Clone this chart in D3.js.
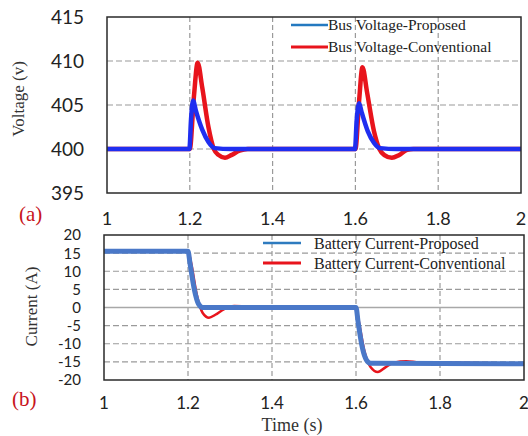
<!DOCTYPE html>
<html>
<head>
<meta charset="utf-8">
<script src="https://cdn.jsdelivr.net/npm/d3@7"></script>
<style>
  body { margin: 0; background: #fff; }
  svg { display: block; }
</style>
</head>
<body>
<script>
// x ticks shared by both panels
var timeTicks = [1, 1.2, 1.4, 1.6, 1.8, 2];
var voltTicks = [395, 400, 405, 410, 415];
var currTicks = [-20, -15, -10, -5, 0, 5, 10, 15, 20];

// (a) bus voltage
var voltProposed = [
  [1.0, 400], [1.199, 400], [1.203, 403.4], [1.208, 405.5], [1.215, 404.3],
  [1.23, 402.2], [1.245, 400.8], [1.26, 400.1], [1.3, 400], [1.599, 400],
  [1.603, 403.2], [1.609, 405.2], [1.615, 404.2], [1.63, 402.0], [1.645, 400.7],
  [1.66, 400.1], [1.7, 400], [2.0, 400]
];
var voltConventional = [
  [1.0, 400], [1.2, 400], [1.21, 406], [1.219, 409.8], [1.23, 407],
  [1.245, 402.5], [1.258, 400], [1.27, 399.3], [1.285, 399.0], [1.30, 399.3],
  [1.32, 399.8], [1.34, 400], [1.6, 400], [1.609, 405.5], [1.617, 409.3],
  [1.628, 406.5], [1.645, 402], [1.658, 400], [1.67, 399.3], [1.688, 399.0],
  [1.705, 399.3], [1.725, 399.9], [1.74, 400], [2.0, 400]
];

// (b) battery current
var currProposed = [
  [1.0, 15.5], [1.2, 15.5], [1.205, 12], [1.215, 5], [1.225, 1], [1.235, 0],
  [1.6, 0], [1.605, -4], [1.615, -11], [1.625, -14.5], [1.635, -15.4], [2.0, -15.5]
];
var currConventional = [
  [1.0, 15.5], [1.2, 15.5], [1.208, 12], [1.22, 4], [1.235, -1.5], [1.25, -2.8],
  [1.265, -2], [1.285, -0.5], [1.31, 0.4], [1.33, 0.3], [1.36, 0], [1.6, 0],
  [1.607, -4], [1.62, -12], [1.635, -16.5], [1.652, -17.8], [1.67, -16.5],
  [1.69, -15.2], [1.72, -14.8], [1.75, -15.1], [2.0, -15.4]
];

var svg = d3.select('body').append('svg')
    .attr('width', 528)
    .attr('height', 436);

svg.append('rect').attr('width', 528).attr('height', 436).attr('fill', '#fff');

var tickFont = 'Lato, "Open Sans", sans-serif';
var serif = '"Liberation Serif", "DejaVu Serif", serif';

function panel(o) {
  var x = d3.scaleLinear().domain([1, 2]).range([o.left, o.right]);
  var y = d3.scaleLinear().domain(o.ydom).range([o.bottom, o.top]);
  var g = svg.append('g');

  // vertical grid
  g.selectAll('line.vg')
    .data(timeTicks.slice(1, -1)).enter().append('line')
    .attr('class', 'vg')
    .attr('x1', function(d) { return x(d); }).attr('x2', function(d) { return x(d); })
    .attr('y1', o.top).attr('y2', o.bottom)
    .attr('stroke', '#9a9a9a').attr('stroke-width', 1.2)
    .attr('stroke-dasharray', '5,3');

  // horizontal grid
  g.selectAll('line.hg')
    .data(o.yticks.slice(1, -1)).enter().append('line')
    .attr('class', 'hg')
    .attr('x1', o.left).attr('x2', o.right)
    .attr('y1', function(d) { return y(d); }).attr('y2', function(d) { return y(d); })
    .attr('stroke', function(d) { return (o.solidZero && d === 0) ? '#a8a8a8' : '#9a9a9a'; })
    .attr('stroke-width', function(d) { return (o.solidZero && d === 0) ? 1.6 : 1.2; })
    .attr('stroke-dasharray', function(d) { return (o.solidZero && d === 0) ? null : '6,3'; });

  var line = d3.line()
    .x(function(d) { return x(d[0]); })
    .y(function(d) { return y(d[1]); })
    .curve(d3.curveMonotoneX);

  g.append('path').datum(o.red)
    .attr('d', line).attr('fill', 'none')
    .attr('stroke', '#e8141c').attr('stroke-width', o.redW)
    .attr('stroke-linejoin', 'round');
  g.append('path').datum(o.blue)
    .attr('d', line).attr('fill', 'none')
    .attr('stroke', o.blueColor).attr('stroke-width', o.blueW)
    .attr('stroke-linejoin', 'round');

  // frame
  g.append('rect')
    .attr('x', o.left).attr('y', o.top)
    .attr('width', o.right - o.left).attr('height', o.bottom - o.top)
    .attr('fill', 'none').attr('stroke', '#2a2a2a').attr('stroke-width', 1.5);

  // y tick labels
  g.selectAll('text.yt')
    .data(o.yticks).enter().append('text')
    .attr('class', 'yt')
    .attr('x', o.left - o.ylabGap)
    .attr('y', function(d) { return y(d); })
    .attr('dy', '0.36em')
    .attr('text-anchor', 'end')
    .style('font-family', tickFont).style('font-size', o.yfont + 'px')
    .attr('fill', '#222')
    .text(function(d) { return d; });

  // x tick labels
  g.selectAll('text.xt')
    .data(timeTicks).enter().append('text')
    .attr('class', 'xt')
    .attr('x', function(d) { return x(d); })
    .attr('y', o.xlabY)
    .attr('text-anchor', 'middle')
    .style('font-family', tickFont).style('font-size', o.xfont + 'px')
    .attr('fill', '#222')
    .text(function(d) { return d; });

  // y title
  g.append('text')
    .attr('transform', 'translate(' + o.titleX + ',' + ((o.top + o.bottom) / 2 + o.titleDy) + ') rotate(-90)')
    .attr('text-anchor', 'middle')
    .style('font-family', serif).style('font-size', '17px')
    .attr('fill', '#333')
    .text(o.ytitle);

  // panel letter
  g.append('text')
    .attr('x', o.letterX).attr('y', o.letterY)
    .style('font-family', serif).style('font-size', '21px')
    .attr('fill', '#c8141c')
    .text(o.letter);

  // legend
  var leg = [
    { name: o.names[0], color: o.legBlue, w: 2.5 },
    { name: o.names[1], color: '#e8141c', w: 3 }
  ];
  leg.forEach(function(d, i) {
    var ly = o.legY + i * o.legStep;
    g.append('line')
      .attr('x1', o.legX1).attr('x2', o.legX2)
      .attr('y1', ly).attr('y2', ly)
      .attr('stroke', d.color).attr('stroke-width', d.w);
    g.append('text')
      .attr('x', o.legTx).attr('y', ly).attr('dy', '0.35em')
      .style('font-family', serif).style('font-size', o.legFont + 'px')
      .attr('fill', '#222')
      .text(d.name);
  });
  return x;
}

panel({
  left: 107, right: 521, top: 17, bottom: 193,
  ydom: [395, 415], yticks: voltTicks, solidZero: false,
  blue: voltProposed, red: voltConventional,
  blueColor: '#1f2ef0', blueW: 4.5, redW: 4.5,
  ylabGap: 23, yfont: 19, xlabY: 225, xfont: 18,
  ytitle: 'Voltage (v)', titleX: 24, titleDy: -6,
  letter: '(a)', letterX: 19, letterY: 221,
  names: ['Bus Voltage-Proposed', 'Bus Voltage-Conventional'],
  legBlue: '#2479c0', legX1: 291, legX2: 328, legTx: 328, legY: 25, legStep: 22, legFont: 15.5
});

panel({
  left: 104, right: 524, top: 235, bottom: 380,
  ydom: [-20, 20], yticks: currTicks, solidZero: true,
  blue: currProposed, red: currConventional,
  blueColor: '#4a78c8', blueW: 5, redW: 2.5,
  ylabGap: 23, yfont: 15, xlabY: 409, xfont: 17,
  ytitle: 'Current (A)', titleX: 37, titleDy: -1,
  letter: '(b)', letterX: 12, letterY: 406,
  names: ['Battery Current-Proposed', 'Battery Current-Conventional'],
  legBlue: '#2e7bbf', legX1: 263, legX2: 301, legTx: 314, legY: 243, legStep: 20, legFont: 16
});

svg.append('text')
  .attr('x', 292).attr('y', 431)
  .attr('text-anchor', 'middle')
  .style('font-family', serif).style('font-size', '18px')
  .attr('fill', '#333')
  .text('Time (s)');
</script>
</body>
</html>
